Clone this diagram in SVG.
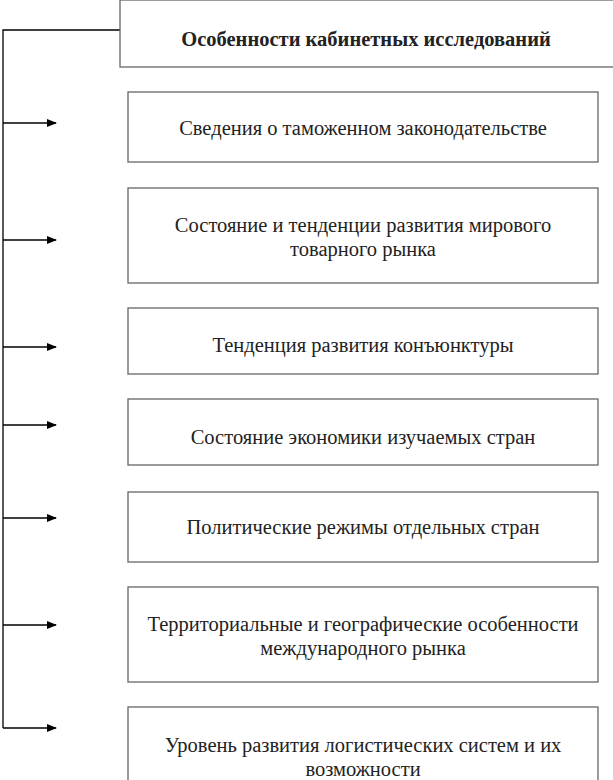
<svg xmlns="http://www.w3.org/2000/svg" width="613" height="780" viewBox="0 0 613 780">
<defs><marker id="ah" markerWidth="10" markerHeight="8" refX="9" refY="4" orient="auto" markerUnits="userSpaceOnUse"><path d="M0,0 L10,4 L0,8 Z" fill="#000"/></marker>
<style>rect{fill:#fff;stroke:#666;stroke-width:1.3}text{font-family:"Liberation Serif",serif;font-size:20.5px;fill:#222;text-anchor:middle}.c{stroke:#000;stroke-width:1.3;fill:none}</style></defs>
<rect x="0" y="0" width="613" height="780" style="fill:#fff;stroke:none"/>
<g id="connectors">
<path class="c" d="M120,30 H3 V728"/>
<path class="c" marker-end="url(#ah)" d="M3,123 H56"/>
<path class="c" marker-end="url(#ah)" d="M3,240 H56"/>
<path class="c" marker-end="url(#ah)" d="M3,347 H56"/>
<path class="c" marker-end="url(#ah)" d="M3,425 H56"/>
<path class="c" marker-end="url(#ah)" d="M3,518 H56"/>
<path class="c" marker-end="url(#ah)" d="M3,625 H56"/>
<path class="c" marker-end="url(#ah)" d="M3,728 H56"/>
</g>
<g id="title"><rect x="120" y="0" width="494" height="67"/><text x="366" y="46" font-weight="bold">Особенности кабинетных исследований</text></g>
<g id="n1"><rect x="128" y="92" width="470" height="70"/><text x="363" y="135">Сведения о таможенном законодательстве</text></g>
<g id="n2"><rect x="128" y="188" width="470" height="95"/><text x="363" y="232">Состояние и тенденции развития мирового</text><text x="363" y="256">товарного рынка</text></g>
<g id="n3"><rect x="128" y="308" width="470" height="66"/><text x="363" y="352">Тенденция развития конъюнктуры</text></g>
<g id="n4"><rect x="128" y="399" width="470" height="66"/><text x="363" y="444">Состояние экономики изучаемых стран</text></g>
<g id="n5"><rect x="128" y="492" width="470" height="70"/><text x="363" y="534">Политические режимы отдельных стран</text></g>
<g id="n6"><rect x="128" y="587" width="470" height="95"/><text x="363" y="631">Территориальные и географические особенности</text><text x="363" y="655">международного рынка</text></g>
<g id="n7"><rect x="128" y="707" width="470" height="80"/><text x="363" y="752">Уровень развития логистических систем и их</text><text x="363" y="776">возможности</text></g>
</svg>
